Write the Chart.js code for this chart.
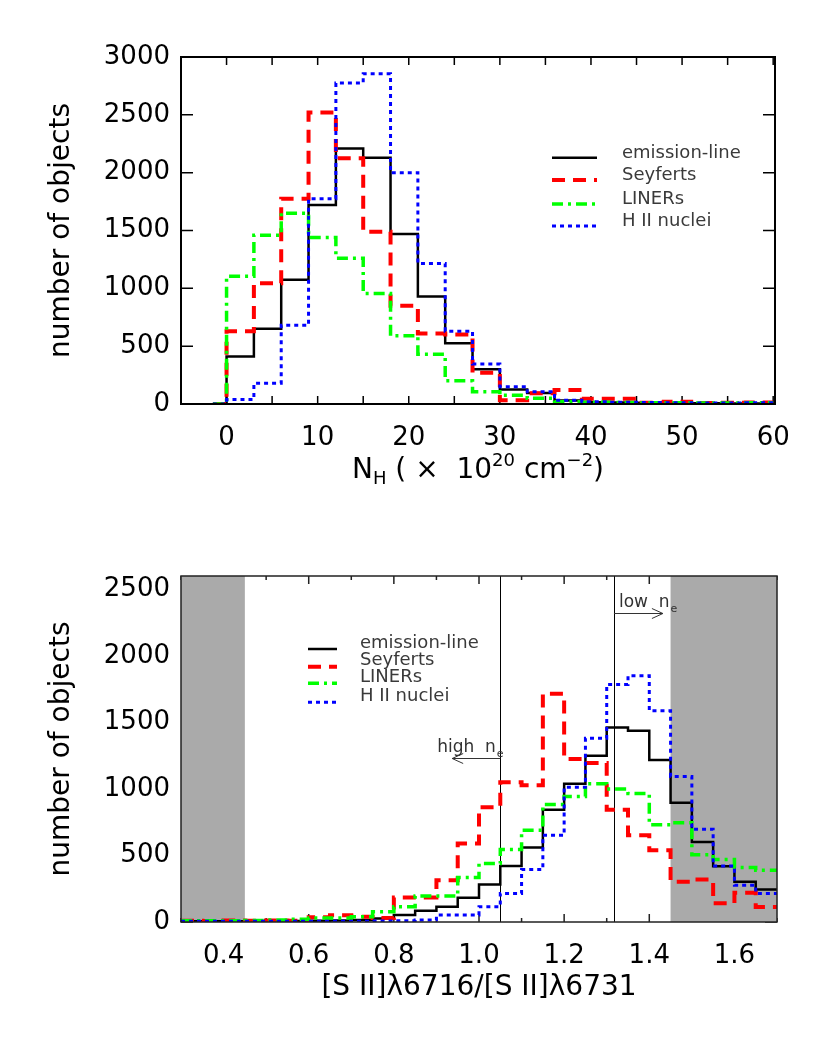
<!DOCTYPE html>
<html>
<head>
<meta charset="utf-8">
<script src="https://cdn.jsdelivr.net/npm/chart.js@4.4.0/dist/chart.umd.min.js"></script>
<style>
  body { margin: 0; background: #fff; }
  .panel { position: absolute; left: 0; width: 830px; height: 519px; }
</style>
</head>
<body>
<div class="panel" style="top:0"><canvas id="nhChart"></canvas></div>
<div class="panel" style="top:519px"><canvas id="siiChart"></canvas></div>
<script>
// ---- top panel: column density N_H (bin edges, counts per bin) ----
var nhEdges = [-1.5, 0, 3, 6, 9, 12, 15, 18, 21, 24, 27, 30, 33, 36, 39, 42, 45, 48, 51, 54, 57, 60];
var nhEmission = [0, 410, 650, 1075, 1720, 2210, 2130, 1470, 930, 525, 300, 125, 95, 30, 15, 12, 10, 8, 6, 5, 5];
var nhSeyferts = [0, 630, 1045, 1775, 2520, 2125, 1490, 850, 610, 600, 270, 32, 92, 120, 45, 45, 10, 20, 8, 10, 12];
var nhLiners = [0, 1105, 1460, 1650, 1440, 1260, 955, 590, 430, 200, 105, 75, 50, 20, 15, 12, 10, 10, 8, 8, 10];
var nhHII = [0, 38, 180, 680, 1775, 2775, 2855, 2000, 1215, 630, 345, 150, 105, 32, 20, 15, 12, 10, 8, 8, 10];
var nhTickLabels = [0, 10, 20, 30, 40, 50, 60];

// ---- bottom panel: [S II] doublet ratio ----
var siiEdges = [0.30, 0.35, 0.40, 0.45, 0.50, 0.55, 0.60, 0.65, 0.70, 0.75, 0.80, 0.85, 0.90, 0.95, 1.00,
                1.05, 1.10, 1.15, 1.20, 1.25, 1.30, 1.35, 1.40, 1.45, 1.50, 1.55, 1.60, 1.65, 1.70];
var siiEmission = [5, 5, 5, 5, 8, 8, 10, 12, 15, 27, 52, 85, 115, 182, 282, 421, 559, 843, 1038, 1250, 1462, 1437, 1218, 896, 601, 419, 302, 245];
var siiSeyferts = [10, 8, 12, 10, 12, 10, 35, 50, 40, 30, 185, 185, 314, 589, 863, 1050, 1027, 1716, 1225, 1195, 843, 651, 539, 302, 319, 140, 219, 112];
var siiLiners = [10, 10, 10, 12, 15, 20, 30, 30, 40, 77, 115, 195, 195, 335, 439, 544, 689, 883, 943, 1038, 1000, 965, 730, 745, 505, 470, 410, 389];
var siiHII = [5, 5, 5, 5, 5, 5, 5, 5, 5, 8, 10, 15, 52, 52, 115, 215, 394, 651, 1013, 1380, 1785, 1850, 1587, 1093, 697, 420, 277, 215];
var siiTickLabels = [0.4, 0.6, 0.8, 1.0, 1.2, 1.4, 1.6];
var siiShaded = [[0.30, 0.45], [1.45, 1.70]];
var siiLimits = [1.05, 1.317];   // high / low density limits

var countTicks = [0, 500, 1000, 1500, 2000, 2500, 3000];

var FONT = "'DejaVu Sans', sans-serif";
Chart.defaults.font.family = FONT;
Chart.defaults.color = '#000';

function stepPoints(edges, values) {
  var pts = values.map(function (v, i) { return { x: edges[i], y: v }; });
  pts.push({ x: edges[edges.length - 1], y: values[values.length - 1] });
  return pts;
}

function histSets(edges, emi, sey, lin, hii) {
  var sets = [
    { label: 'emission-line', data: stepPoints(edges, emi), borderColor: '#000000', borderWidth: 2.5, order: 4 },
    { label: 'Seyferts', data: stepPoints(edges, sey), borderColor: '#ff0000', borderWidth: 4, borderDash: [13, 8], order: 3 },
    { label: 'LINERs', data: stepPoints(edges, lin), borderColor: '#00ff00', borderWidth: 3.5, borderDash: [11, 5, 3, 5], order: 2 },
    { label: 'H II nuclei', data: stepPoints(edges, hii), borderColor: '#0000ff', borderWidth: 3, borderDash: [4, 4], order: 1 }
  ];
  sets.forEach(function (d) {
    d.stepped = 'before';
    d.pointRadius = 0;
    d.fill = false;
    d.borderCapStyle = 'butt';
  });
  return sets;
}

function isLabelled(list, v) {
  return list.some(function (l) { return Math.abs(l - v) < 1e-6; });
}

// frame, inward ticks, shaded bands, legend and notes
var decor = {
  id: 'decor',
  beforeDatasetsDraw: function (chart, args, o) {
    var ctx = chart.ctx, a = chart.chartArea, x = chart.scales.x, y = chart.scales.y;
    ctx.save();
    ctx.strokeStyle = o.frameColor;
    ctx.lineWidth = 1.5;
    ctx.beginPath();
    x.ticks.forEach(function (t) {
      var px = x.getPixelForValue(t.value);
      var len = t.label !== '' ? o.xMajor : o.xMinor;
      ctx.moveTo(px, a.bottom); ctx.lineTo(px, a.bottom - len);
      ctx.moveTo(px, a.top); ctx.lineTo(px, a.top + len);
    });
    y.ticks.forEach(function (t) {
      var py = y.getPixelForValue(t.value);
      ctx.moveTo(a.left, py); ctx.lineTo(a.left + o.yTick, py);
      ctx.moveTo(a.right, py); ctx.lineTo(a.right - o.yTick, py);
    });
    ctx.stroke();
    (o.bands || []).forEach(function (b) {
      var x0 = x.getPixelForValue(b[0]), x1 = x.getPixelForValue(b[1]);
      ctx.fillStyle = '#aaaaaa';
      ctx.fillRect(x0, a.top, x1 - x0, a.height);
    });
    ctx.strokeStyle = '#000';
    ctx.lineWidth = 1;
    (o.vlines || []).forEach(function (v) {
      var px = Math.round(x.getPixelForValue(v)) + 0.5;
      ctx.beginPath(); ctx.moveTo(px, a.top); ctx.lineTo(px, a.bottom); ctx.stroke();
    });
    ctx.restore();
  },
  afterDraw: function (chart, args, o) {
    var ctx = chart.ctx, a = chart.chartArea, x = chart.scales.x, y = chart.scales.y;
    ctx.save();
    ctx.strokeStyle = o.frameColor;
    ctx.lineWidth = o.frameWidth;
    ctx.strokeRect(a.left, a.top, a.width, a.height);

    // legend
    var L = o.legend;
    chart.data.datasets.forEach(function (ds, i) {
      var ly = L.rows[i];
      ctx.strokeStyle = ds.borderColor;
      ctx.lineWidth = ds.borderWidth;
      ctx.lineCap = 'butt';
      ctx.setLineDash(ds.borderDash || []);
      ctx.beginPath(); ctx.moveTo(L.x0, ly); ctx.lineTo(L.x1, ly); ctx.stroke();
      ctx.setLineDash([]);
      ctx.fillStyle = '#3a3a3a';
      ctx.font = L.size + 'px ' + FONT;
      ctx.textBaseline = 'middle';
      ctx.textAlign = 'left';
      ctx.fillText(ds.label, L.textX, ly + L.textDy);
    });

    // arrows with density labels
    (o.arrows || []).forEach(function (ar) {
      var x0 = x.getPixelForValue(ar.from), x1 = x.getPixelForValue(ar.to);
      var py = Math.round(y.getPixelForValue(ar.y)) + 0.5;
      var dir = x1 > x0 ? 1 : -1;
      ctx.strokeStyle = '#333';
      ctx.lineWidth = 1;
      ctx.beginPath();
      ctx.moveTo(x0, py); ctx.lineTo(x1, py);
      ctx.moveTo(x1 - dir * 11, py - 5); ctx.lineTo(x1, py); ctx.lineTo(x1 - dir * 11, py + 5);
      ctx.stroke();
      ctx.fillStyle = '#333';
      ctx.textBaseline = 'alphabetic';
      ctx.textAlign = 'left';
      var tx = Math.min(x0, x1) + ar.textDx;
      ctx.font = '17px ' + FONT;
      var word = ar.text + '  n';
      ctx.fillText(word, tx, py - 7);
      var w = ctx.measureText(word).width;
      ctx.font = '11px ' + FONT;
      ctx.fillText('e', tx + w + 1, py - 2);
    });

    // rich x title (sub/superscripts)
    if (o.richTitle) {
      var parts = o.richTitle.parts, total = 0;
      ctx.fillStyle = '#000';
      ctx.textBaseline = 'alphabetic';
      ctx.textAlign = 'left';
      parts.forEach(function (p) {
        ctx.font = p.size + 'px ' + FONT;
        p.w = ctx.measureText(p.t).width;
        total += p.w;
      });
      var cx = (a.left + a.right) / 2 - total / 2;
      parts.forEach(function (p) {
        ctx.font = p.size + 'px ' + FONT;
        ctx.fillText(p.t, cx, o.richTitle.baseline + p.dy);
        cx += p.w;
      });
    }
    ctx.restore();
  }
};

function axes(xMin, xMax, xStep, xLabels, xDigits, yMax, xTitle) {
  return {
    x: {
      type: 'linear', min: xMin, max: xMax,
      afterFit: function (s) { s.height = 100; },
      grid: { display: false, drawTicks: false },
      border: { display: false },
      ticks: {
        stepSize: xStep, autoSkip: false, maxRotation: 0, includeBounds: false,
        padding: 19, font: { size: 26 },
        callback: function (v) { return isLabelled(xLabels, v) ? v.toFixed(xDigits) : ''; }
      },
      title: xTitle
    },
    y: {
      min: 0, max: yMax,
      afterFit: function (s) { s.width = 181; },
      afterBuildTicks: function (s) {
        s.ticks = countTicks.filter(function (v) { return v <= s.max; })
                            .map(function (v) { return { value: v }; });
      },
      grid: { display: false, drawTicks: false },
      border: { display: false },
      ticks: {
        autoSkip: false, padding: 11, font: { size: 26 },
        callback: function (v) { return String(v); }
      },
      title: { display: true, text: 'number of objects', font: { size: 28 }, padding: { top: 45, bottom: 0 } }
    }
  };
}

new Chart(document.getElementById('nhChart').getContext('2d'), {
  type: 'line',
  data: { datasets: histSets(nhEdges, nhEmission, nhSeyferts, nhLiners, nhHII) },
  options: {
    responsive: true, maintainAspectRatio: false, animation: false,
    layout: { padding: { left: 0, right: 55, top: 57, bottom: 15 } },
    scales: axes(-5, 60.2, 5, nhTickLabels, 0, 3000, { display: false }),
    plugins: {
      legend: { display: false },
      tooltip: { enabled: false },
      decor: {
        frameColor: '#000', frameWidth: 2, xMajor: 8, xMinor: 8, yTick: 12,
        legend: { x0: 552, x1: 597, textX: 622, rows: [157.7, 180, 204, 226], textDy: -4.5, size: 18 },
        richTitle: {
          baseline: 478,
          parts: [
            { t: 'N', size: 28, dy: 0 }, { t: 'H', size: 18, dy: 6 },
            { t: ' ( \u00d7  10', size: 28, dy: 0 }, { t: '20', size: 18, dy: -12 },
            { t: ' cm', size: 28, dy: 0 }, { t: '\u22122', size: 18, dy: -12 },
            { t: ')', size: 28, dy: 0 }
          ]
        }
      }
    }
  },
  plugins: [decor]
});

new Chart(document.getElementById('siiChart').getContext('2d'), {
  type: 'line',
  data: { datasets: histSets(siiEdges, siiEmission, siiSeyferts, siiLiners, siiHII) },
  options: {
    responsive: true, maintainAspectRatio: false, animation: false,
    layout: { padding: { left: 0, right: 53, top: 57, bottom: 16 } },
    scales: axes(0.3, 1.7, 0.1, siiTickLabels, 1, 2600,
      { display: true, text: '[S II]\u03bb6716/[S II]\u03bb6731', font: { size: 28 }, padding: { top: 0, bottom: 17 } }),
    plugins: {
      legend: { display: false },
      tooltip: { enabled: false },
      decor: {
        frameColor: '#222', frameWidth: 1.5, xMajor: 8, xMinor: 4, yTick: 12,
        bands: siiShaded, vlines: siiLimits,
        legend: { x0: 308, x1: 337, textX: 360, rows: [130, 147.7, 164.3, 183.3], textDy: -6, size: 18 },
        arrows: [
          { from: siiLimits[0], to: 0.937, y: 1235, text: 'high', textDx: -15 },
          { from: siiLimits[1], to: 1.432, y: 2323, text: 'low', textDx: 5 }
        ]
      }
    }
  },
  plugins: [decor]
});
</script>
</body>
</html>
